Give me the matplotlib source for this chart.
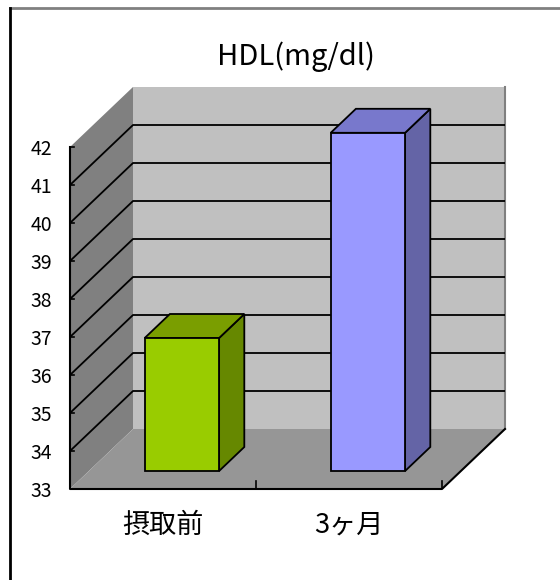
import matplotlib
matplotlib.use("Agg")
import matplotlib.pyplot as plt
from matplotlib.patches import Polygon
from matplotlib.lines import Line2D

plt.rcParams['font.family'] = ['Noto Sans CJK JP', 'DejaVu Sans']

# ---- data ----
categories = ['摂取前', '3ヶ月']
values = [36.5, 41.9]
front_colors = ['#99CC00', '#9999FF']
top_colors = ['#7A9E00', '#7878CC']
side_colors = ['#668800', '#6464A6']
yticks = list(range(33, 43))
title = 'HDL(mg/dl)'

ymin, ymax = 33, 42
DX = 0.3387          # depth offset in category units
DY = 1.579           # depth offset in value units
HALF_W = 0.2
Z0, Z1 = 0.3, 0.7


def P(x, y, z):
    return (x + z * DX, y + z * DY)


W, H = 560, 580
fig = plt.figure(figsize=(W / 100, H / 100), dpi=100)
ax = fig.add_axes([70 / W, (H - 489) / H, (505 - 70) / W, (489 - 87) / H])
n = len(categories)
ax.set_xlim(0, n + DX)
ax.set_ylim(ymin, ymax + DY)
for s in ax.spines.values():
    s.set_visible(False)
ax.patch.set_alpha(0)

# walls
left_wall = [P(0, ymin, 0), P(0, ymax, 0), P(0, ymax, 1), P(0, ymin, 1)]
floor = [P(0, ymin, 0), P(n, ymin, 0), P(n, ymin, 1), P(0, ymin, 1)]
back_wall = [P(0, ymin, 1), P(n, ymin, 1), P(n, ymax, 1), P(0, ymax, 1)]
ax.add_patch(Polygon(back_wall, closed=True, fc='#C0C0C0', ec='none', zorder=1))
ax.add_patch(Polygon(left_wall, closed=True, fc='#808080', ec='none', zorder=1))
ax.add_patch(Polygon(floor, closed=True, fc='#969696', ec='none', zorder=1))

# back wall right edge
x0, y0 = P(n, ymin, 1)
x1, y1 = P(n, ymax, 1)
ax.add_line(Line2D([x0, x1], [y0, y1], color='#808080', lw=1.5, zorder=2, clip_on=False))

# gridlines
for v in yticks[1:-1]:
    a = P(0, v, 0); b = P(0, v, 1); c = P(n, v, 1)
    ax.add_line(Line2D([a[0], b[0], c[0]], [a[1], b[1], c[1]], color='black', lw=1.3, zorder=2))

# front axis and floor edges
a = P(0, ymax, 0); b = P(0, ymin, 0); c = P(n, ymin, 0); d = P(n, ymin, 1)
ax.add_line(Line2D([a[0], b[0], c[0], d[0]], [a[1], b[1], c[1], d[1]],
                   color='black', lw=1.5, zorder=5, clip_on=False))
for i in range(1, n + 1):
    ax.add_line(Line2D([i, i], [ymin, ymin + 0.21], color='black', lw=1.2, zorder=5))
for v in yticks:
    ax.add_line(Line2D([0, 0.02], [v, v], color='black', lw=1.2, zorder=5))

# bars
for i, (v, fc, tc, sc) in enumerate(zip(values, front_colors, top_colors, side_colors)):
    cx = i + 0.5
    l, r = cx - HALF_W, cx + HALF_W
    side = [P(r, ymin, Z0), P(r, ymin, Z1), P(r, v, Z1), P(r, v, Z0)]
    top = [P(l, v, Z0), P(r, v, Z0), P(r, v, Z1), P(l, v, Z1)]
    front = [P(l, ymin, Z0), P(r, ymin, Z0), P(r, v, Z0), P(l, v, Z0)]
    for poly, col in ((side, sc), (top, tc), (front, fc)):
        ax.add_patch(Polygon(poly, closed=True, fc=col, ec='black', lw=1.3,
                             joinstyle='miter', zorder=6))

# ticks / labels
ax.set_yticks(yticks)
ax.set_yticklabels([str(t) for t in yticks], fontsize=14)
ax.tick_params(axis='y', length=0, pad=13)
ax.set_xticks([])
for i, cat in enumerate(categories):
    ax.annotate(cat, xy=(i + 0.5, ymin), xytext=(0, -26), textcoords='offset points',
                ha='center', va='center', fontsize=19.5)

fig.text(296 / W, 1 - 57 / H, title, ha='center', va='center', fontsize=21)

# outer frame (top and left edges)
fig.add_artist(Line2D([10 / W, 1], [1 - 8 / H, 1 - 8 / H], color='#808080', lw=2,
                      transform=fig.transFigure))
fig.add_artist(Line2D([10 / W, 10 / W], [0, 1 - 8 / H], color='black', lw=2,
                      transform=fig.transFigure))

fig.savefig('out.png', dpi=100)
